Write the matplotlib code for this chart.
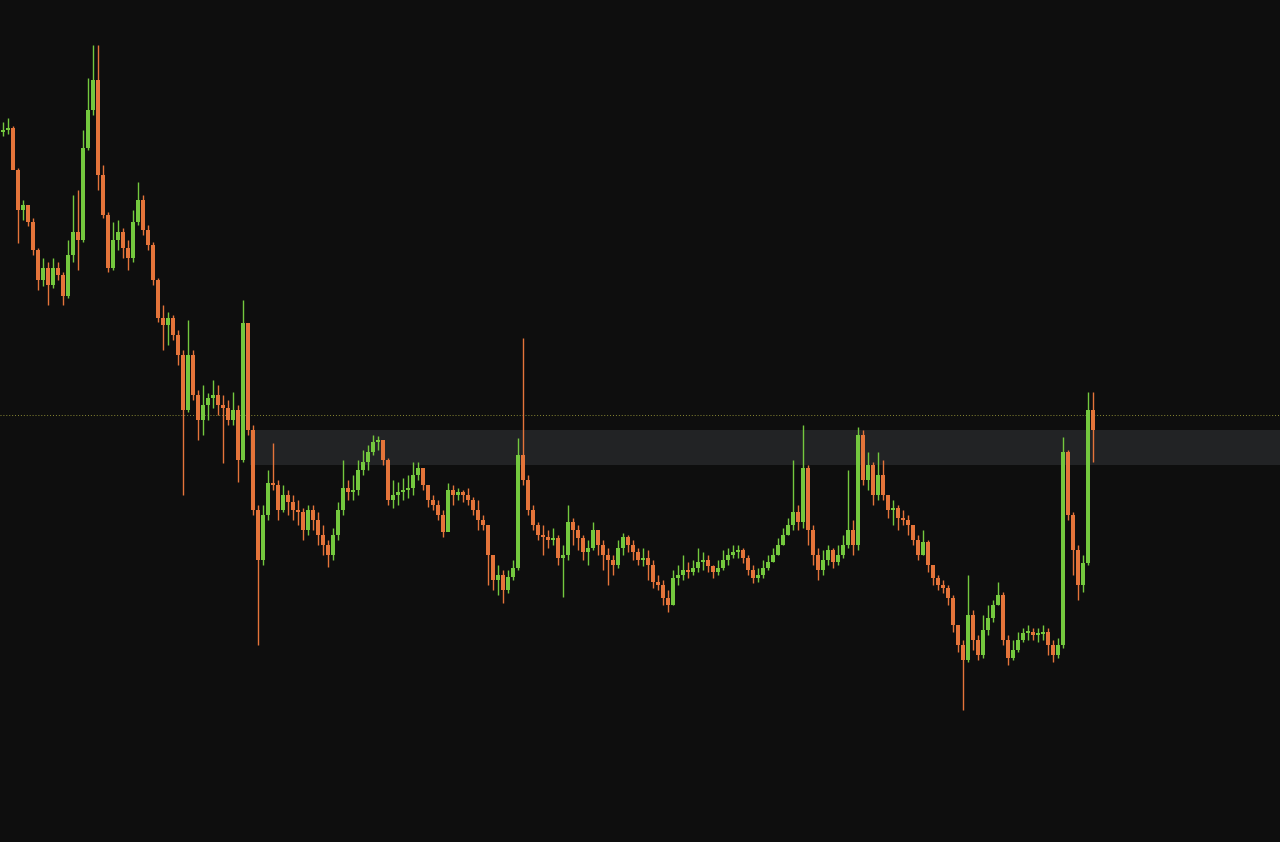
import numpy as np
import matplotlib
matplotlib.use("Agg")
import matplotlib.pyplot as plt

# candle data (price units), one candle per step
first_open = 710
closes = [712, 714, 672, 632, 637, 620, 592, 562, 574, 557,
          574, 567, 546, 587, 610, 602, 694, 732, 762, 667,
          627, 574, 602, 610, 594, 584, 620, 642, 612, 597,
          562, 524, 517, 524, 507, 487, 432, 487, 447, 422,
          437, 444, 447, 437, 434, 422, 432, 382, 519, 412,
          332, 282, 327, 359, 357, 332, 347, 340, 332, 330,
          312, 332, 322, 307, 297, 287, 307, 332, 354, 350,
          352, 372, 380, 390, 400, 402, 382, 342, 347, 350,
          352, 354, 367, 374, 357, 342, 337, 327, 310, 352,
          347, 350, 347, 342, 332, 322, 317, 287, 262, 267,
          252, 265, 274, 387, 362, 332, 317, 307, 305, 302,
          304, 284, 287, 320, 312, 304, 290, 294, 312, 297,
          287, 282, 277, 294, 305, 297, 290, 282, 284, 277,
          260, 257, 244, 237, 264, 267, 272, 270, 274, 280,
          282, 276, 270, 274, 282, 287, 290, 292, 284, 272,
          264, 267, 274, 280, 287, 297, 307, 317, 330, 320,
          374, 312, 287, 272, 282, 292, 280, 287, 297, 312,
          297, 407, 362, 377, 347, 367, 347, 332, 334, 324,
          322, 317, 302, 287, 300, 277, 264, 257, 254, 244,
          217, 197, 182, 227, 202, 187, 212, 224, 237, 247,
          202, 184, 192, 202, 209, 210, 207, 208, 210, 197,
          187, 197, 390, 327, 292, 257, 279, 432, 412]
highs = [720, 724, 716, 674, 642, 637, 624, 594, 584, 580,
         584, 580, 570, 602, 647, 652, 712, 764, 797, 797,
         677, 630, 620, 622, 614, 602, 632, 660, 647, 617,
         600, 564, 537, 530, 527, 512, 492, 522, 492, 452,
         457, 449, 462, 457, 447, 442, 450, 437, 542, 502,
         417, 337, 337, 372, 399, 362, 357, 352, 347, 342,
         334, 337, 337, 330, 317, 302, 314, 340, 382, 362,
         367, 382, 392, 397, 407, 406, 402, 384, 362, 360,
         364, 367, 380, 380, 374, 357, 347, 342, 332, 359,
         357, 354, 352, 354, 345, 342, 327, 317, 287, 277,
         272, 272, 282, 404, 504, 367, 337, 320, 317, 312,
         314, 307, 297, 337, 324, 317, 307, 302, 320, 312,
         302, 294, 287, 302, 309, 307, 302, 294, 294, 292,
         282, 267, 262, 252, 272, 277, 287, 280, 282, 294,
         290, 287, 277, 282, 292, 294, 297, 297, 294, 287,
         277, 274, 282, 287, 294, 304, 314, 324, 382, 337,
         417, 377, 317, 294, 292, 297, 294, 297, 307, 372,
         322, 415, 412, 390, 380, 390, 382, 347, 342, 337,
         332, 327, 317, 307, 312, 302, 277, 267, 262, 257,
         247, 217, 202, 267, 232, 207, 227, 237, 242, 260,
         250, 207, 202, 210, 214, 217, 214, 214, 217, 214,
         202, 204, 405, 392, 330, 297, 287, 450, 450]
lows = [706, 708, 674, 599, 622, 616, 587, 552, 556, 537,
        554, 562, 537, 544, 580, 572, 600, 692, 727, 652,
        624, 570, 572, 592, 584, 572, 580, 617, 607, 592,
        557, 520, 492, 497, 502, 477, 347, 430, 442, 402,
        407, 422, 434, 427, 379, 417, 417, 360, 380, 407,
        327, 197, 277, 322, 352, 322, 330, 327, 322, 317,
        302, 307, 312, 297, 287, 275, 282, 302, 327, 342,
        342, 347, 367, 372, 387, 392, 377, 337, 334, 337,
        342, 344, 347, 362, 352, 335, 332, 322, 305, 312,
        337, 342, 340, 337, 327, 312, 312, 257, 252, 247,
        239, 249, 262, 272, 357, 327, 312, 302, 287, 294,
        297, 277, 245, 282, 297, 292, 282, 277, 292, 287,
        272, 257, 267, 274, 287, 290, 282, 277, 276, 262,
        254, 252, 237, 230, 237, 257, 262, 264, 267, 270,
        272, 270, 264, 267, 272, 277, 284, 284, 279, 267,
        259, 260, 264, 272, 280, 287, 297, 307, 312, 312,
        314, 297, 277, 262, 267, 277, 274, 277, 284, 294,
        287, 292, 357, 352, 337, 342, 342, 324, 317, 312,
        317, 307, 297, 282, 287, 270, 257, 252, 249, 237,
        210, 190, 132, 180, 192, 182, 184, 207, 220, 237,
        197, 177, 182, 190, 200, 202, 202, 200, 202, 187,
        180, 184, 194, 322, 267, 242, 250, 277, 380]

# horizontal levels
last_price = 427
zone_low, zone_high = 377, 412

up_col = "#74c83e"
down_col = "#e4743a"
bg = "#0e0e0e"

closes = np.array(closes)
highs = np.array(highs)
lows = np.array(lows)
opens = np.concatenate(([first_open], closes[:-1]))
idx = np.arange(len(closes))
cols = np.where(closes >= opens, up_col, down_col)

fig = plt.figure(figsize=(12.8, 8.42), dpi=100)
fig.patch.set_facecolor(bg)
ax = fig.add_axes([0, 0, 1, 1])
ax.set_facecolor(bg)

# support / resistance zone and last price line
ax.axhspan(zone_low, zone_high, xmin=0.195, xmax=1, color="#222325", lw=0, zorder=0)
ax.axhline(last_price, color="#8a8a34", lw=0.7, ls=(0, (1, 2)), zorder=1)

# wicks then bodies
ax.vlines(idx, lows, highs, colors=cols, lw=1.0, zorder=2)
h = closes - opens
h = np.where(np.abs(h) < 2, 2, h)
ax.bar(idx, h, bottom=opens, width=0.82, color=cols, lw=0, zorder=3)

ax.set_xlim(-0.6, 255.4)
ax.set_ylim(0, 842)
ax.axis("off")

fig.savefig("out.png", dpi=100, facecolor=bg)
